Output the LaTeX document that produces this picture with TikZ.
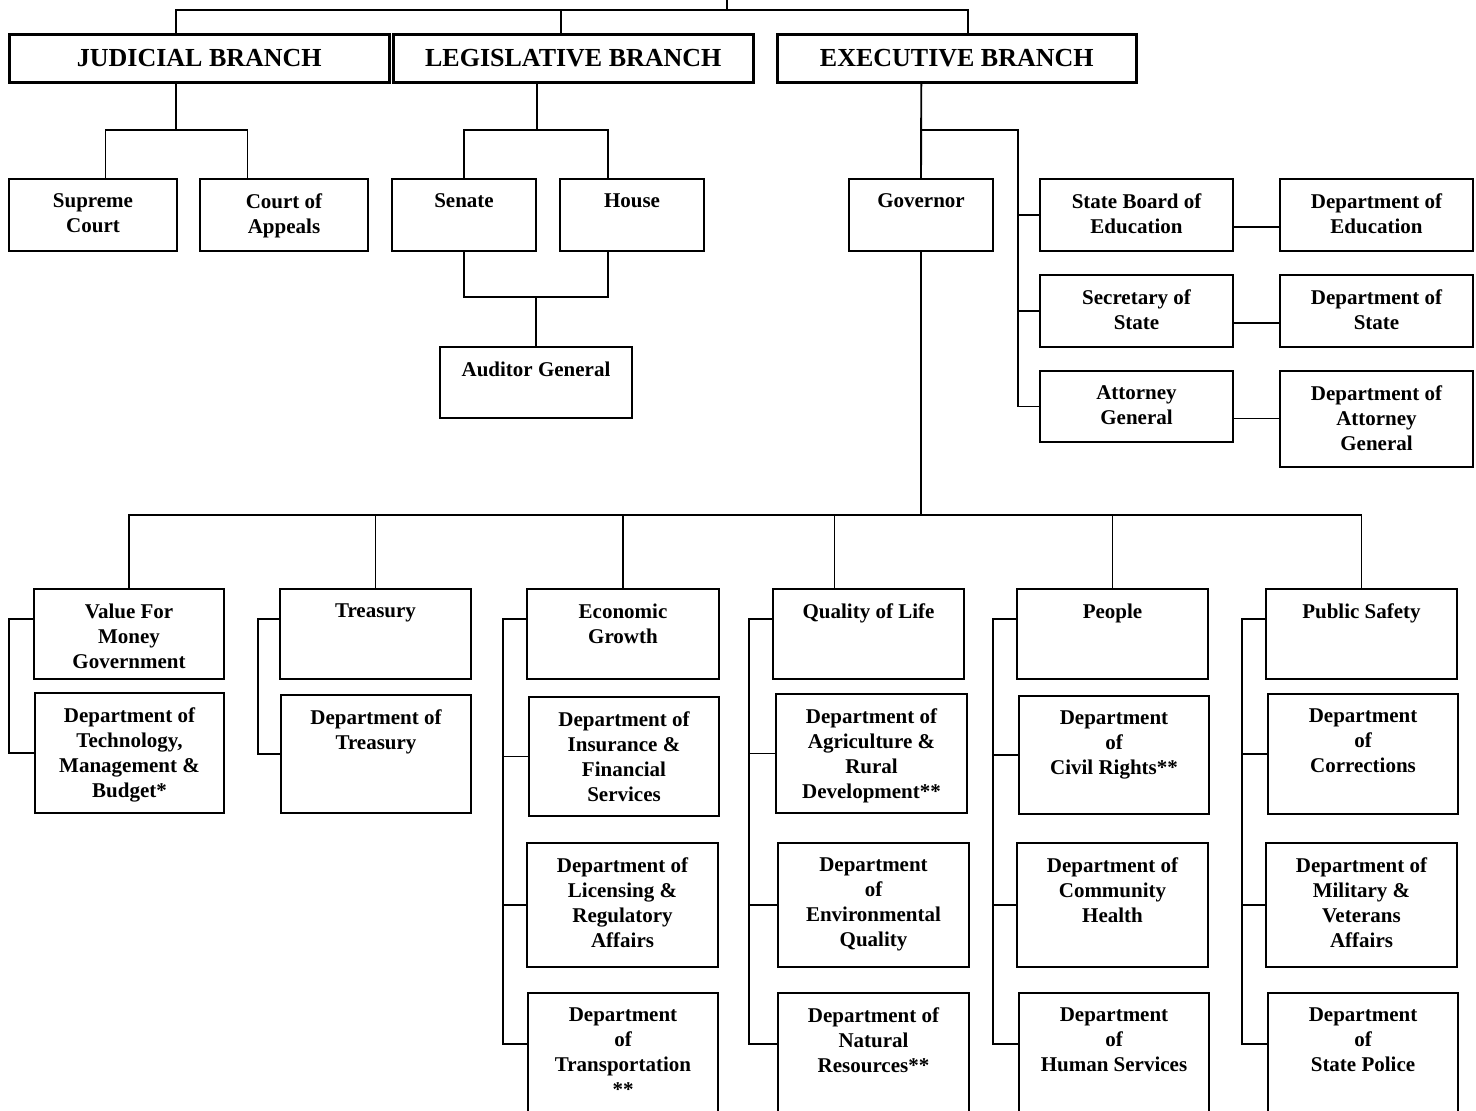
\documentclass[tikz,border=0pt]{standalone}
\usepackage{fontspec}
\setmainfont{Liberation Serif}

\newcommand{\caixatexto}[3]{\parbox[c][#2pt][t]{#1pt}{\centering\vspace*{15pt}#3}}

\begin{document}
\begin{tikzpicture}[x=1pt, y=-1pt, line width=1.9pt]
        \tikzset{
            caixa/.style={
                draw,
                line width=2pt,
                inner sep=0pt,
                anchor=north west,
                font=\bfseries\fontsize{21}{25}\selectfont
            },
            ramo/.style={
                draw,
                line width=2.6pt,
                inner sep=0pt,
                anchor=north west,
                minimum width=#1,
                minimum height=48pt,
                font=\bfseries\fontsize{26}{30}\selectfont
            }
        }
        \useasboundingbox (0,0) rectangle (1476,1111);
        \clip (0,0) rectangle (1476,1111);

        %ramos
        \node[ramo=380pt] (jud) at (8,33) {JUDICIAL BRANCH};
        \node[ramo=360pt] (leg) at (392,33) {LEGISLATIVE BRANCH};
        \node[ramo=359pt] (exe) at (776,33) {EXECUTIVE BRANCH};

        \node[caixa] (sup) at (8,178) {\caixatexto{168}{72}{Supreme\\Court}};
        \node[caixa] (apl) at (199,178) {\caixatexto{168}{72}{Court of\\Appeals}};
        \node[caixa] (sen) at (391,178) {\caixatexto{144}{72}{Senate}};
        \node[caixa] (cam) at (559,178) {\caixatexto{144}{72}{House}};
        \node[caixa] (aud) at (439,346) {\caixatexto{192}{71}{Auditor General}};

        \node[caixa] (gov) at (848,178) {\caixatexto{144}{72}{Governor}};
        \node[caixa] (sbe) at (1039,178) {\caixatexto{193}{72}{State Board of\\Education}};
        \node[caixa] (sec) at (1039,274) {\caixatexto{193}{72}{Secretary of\\State}};
        \node[caixa] (atg) at (1039,370) {\caixatexto{193}{71}{Attorney\\General}};
        \node[caixa] (dedu) at (1279,178) {\caixatexto{193}{72}{Department of\\Education}};
        \node[caixa] (dest) at (1279,274) {\caixatexto{193}{72}{Department of\\State}};
        \node[caixa] (datg) at (1279,370) {\caixatexto{193}{96}{Department of\\Attorney\\General}};

        %grupos de baixo
        \node[caixa] (vfm) at (33,588) {\caixatexto{190}{90}{Value For\\Money\\Government}};
        \node[caixa] (tec) at (34,692) {\caixatexto{189}{120}{Department of\\Technology,\\Management \&\\Budget*}};
        \node[caixa] (tes) at (279,588) {\caixatexto{191}{90}{Treasury}};
        \node[caixa] (dtes) at (280,694) {\caixatexto{190}{118}{Department of\\Treasury}};

        \node[caixa] (eco) at (526,588) {\caixatexto{192}{90}{Economic\\Growth}};
        \node[caixa] (seg) at (528,696) {\caixatexto{190}{119}{Department of\\Insurance \&\\Financial\\Services}};
        \node[caixa] (lic) at (526,842) {\caixatexto{191}{124}{Department of\\Licensing \&\\Regulatory\\Affairs}};
        \node[caixa] (tra) at (527,992) {\caixatexto{190}{130}{Department\\of\\Transportation\\{}**}};

        \node[caixa] (qvi) at (772,588) {\caixatexto{191}{90}{Quality of Life}};
        \node[caixa] (agr) at (775,693) {\caixatexto{191}{119}{Department of\\Agriculture \&\\Rural\\Development**}};
        \node[caixa] (amb) at (777,842) {\caixatexto{191}{124}{Department\\of\\Environmental\\Quality}};
        \node[caixa] (rec) at (777,992) {\caixatexto{191}{130}{Department of\\Natural\\Resources**}};

        \node[caixa] (pov) at (1016,588) {\caixatexto{191}{90}{People}};
        \node[caixa] (dcr) at (1018,695) {\caixatexto{190}{118}{Department\\of\\Civil Rights**}};
        \node[caixa] (sau) at (1016,842) {\caixatexto{191}{124}{Department of\\Community\\Health}};
        \node[caixa] (hum) at (1018,992) {\caixatexto{190}{130}{Department\\of\\Human Services}};

        \node[caixa] (psb) at (1265,588) {\caixatexto{191}{90}{Public Safety}};
        \node[caixa] (cor) at (1267,693) {\caixatexto{190}{120}{Department\\of\\Corrections}};
        \node[caixa] (mil) at (1265,842) {\caixatexto{191}{124}{Department of\\Military \&\\Veterans\\Affairs}};
        \node[caixa] (pol) at (1267,992) {\caixatexto{190}{130}{Department\\of\\State Police}};

        %barras
        \coordinate (raiz) at (727,-2);
        \coordinate (bar0) at (0,10);
        \coordinate (bar1) at (0,130);
        \coordinate (bar2) at (0,297);
        \coordinate (bar3) at (0,515);

        \draw (raiz) -- (raiz |- bar0);
        \draw ([xshift=-23pt]jud.north) -- ([xshift=-23pt]jud.north |- bar0) -- ([xshift=11.5pt]exe.north |- bar0) -- ([xshift=11.5pt]exe.north);
        \draw ([xshift=-12pt]leg.north) -- ([xshift=-12pt]leg.north |- bar0);

        \draw ([xshift=-23pt]jud.south) -- ([xshift=-23pt]jud.south |- bar1);
        \draw ([xshift=12.5pt]sup.north) -- ([xshift=12.5pt]sup.north |- bar1) -- ([xshift=-36.5pt]apl.north |- bar1) -- ([xshift=-36.5pt]apl.north);

        \draw ([xshift=-36pt]leg.south) -- ([xshift=-36pt]leg.south |- bar1);
        \draw (sen.north) -- (sen.north |- bar1) -- ([xshift=-24pt]cam.north |- bar1) -- ([xshift=-24pt]cam.north);
        \draw (sen.south) -- (sen.south |- bar2) -- ([xshift=-24pt]cam.south |- bar2) -- ([xshift=-24pt]cam.south);
        \draw (aud.north) -- (aud.north |- bar2);

        \draw ([xshift=-35.5pt]exe.south) -- (gov.north);
        \draw (gov.north |- bar1) -- ++(97,0) coordinate (e1) |- (atg.west);
        \draw (sbe.west) -- (sbe.west -| e1);
        \draw (sec.west) -- (sec.west -| e1);
        \draw ([yshift=-12pt]sbe.east) -- ([yshift=-12pt]sbe.east -| dedu.west);
        \draw ([yshift=-12pt]sec.east) -- ([yshift=-12pt]sec.east -| dest.west);
        \draw ([yshift=-12pt]atg.east) -- ([yshift=-12pt]atg.east -| datg.west);

        \draw (gov.south) -- (gov.south |- bar3);
        \draw (vfm.north) -- (vfm.north |- bar3) -- (psb.north |- bar3) -- (psb.north);
        \foreach \n in {tes,eco,pov}
            \draw (\n.north) -- (\n.north |- bar3);
        \draw ([xshift=-34pt]qvi.north) -- ([xshift=-34pt]qvi.north |- bar3);

        %colchetes
        \draw ([yshift=15pt]vfm.west) -- ++(-24,0) |- (tec.west);
        \draw ([yshift=15pt]tes.west) -- ++(-21,0) |- (dtes.west);
        \foreach \a/\b/\c/\d in {eco/seg/lic/tra, qvi/agr/amb/rec, pov/dcr/sau/hum, psb/cor/mil/pol} {
            \draw ([yshift=15pt]\a.west) -- ++(-23,0) coordinate (c-\a) |- ([yshift=14pt]\d.west);
            \draw (\b.west) -- (\b.west -| c-\a);
            \draw (\c.west) -- (\c.west -| c-\a);
        }

\end{tikzpicture}
\end{document}
